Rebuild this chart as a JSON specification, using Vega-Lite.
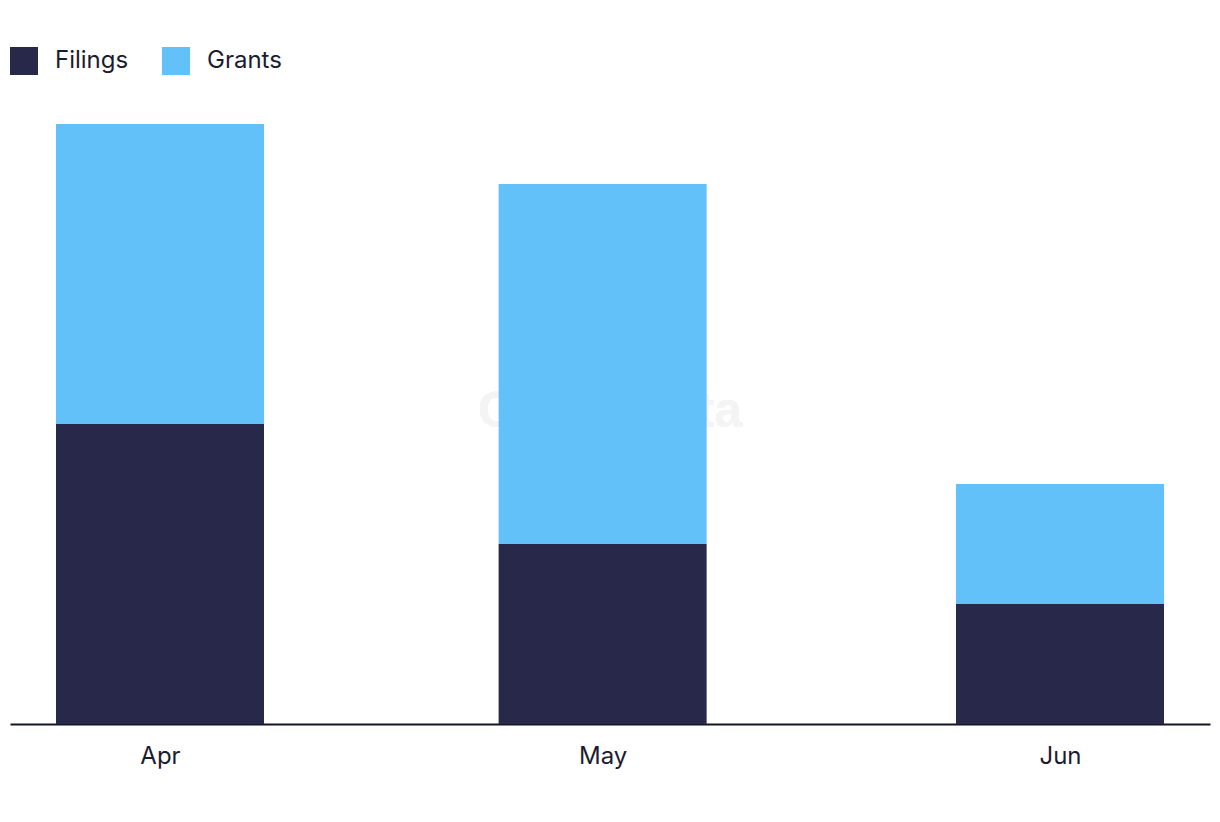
{
  "$schema": "https://vega.github.io/schema/vega-lite/v6.json",
  "width": 1200,
  "height": 600,
  "padding": {"left": 10, "top": 47, "right": 10, "bottom": 5},
  "background": "white",
  "config": {
    "view": {"stroke": null},
    "font": "Inter"
  },
  "data": {
    "values": [
      {"month": "2024-04-01", "type": "Filings", "count": 5},
      {"month": "2024-04-01", "type": "Grants", "count": 5},
      {"month": "2024-05-01", "type": "Filings", "count": 3},
      {"month": "2024-05-01", "type": "Grants", "count": 6},
      {"month": "2024-06-01", "type": "Filings", "count": 2},
      {"month": "2024-06-01", "type": "Grants", "count": 2}
    ]
  },
  "layer": [
    {
      "mark": {"type": "text", "text": "GlobalData", "font": "Liberation Sans", "fontWeight": "bold", "fontSize": 50, "align": "center", "baseline": "middle", "color": "#f4f4f4"},
      "encoding": {
        "x": {
          "datum": {"year": 2024, "month": 5, "date": 1, "hours": 12, "utc": true},
          "type": "temporal",
          "scale": {
            "type": "utc",
            "nice": false,
            "padding": 0,
            "domain": [
              {"year": 2024, "month": 3, "date": 21, "hours": 20, "utc": true},
              {"year": 2024, "month": 6, "date": 11, "hours": 4, "utc": true}
            ]
          },
          "axis": {
            "title": null,
            "values": [
              {"year": 2024, "month": 4, "date": 1, "utc": true},
              {"year": 2024, "month": 5, "date": 1, "utc": true},
              {"year": 2024, "month": 6, "date": 1, "utc": true}
            ],
            "labelExpr": "utcFormat(datum.value, '%b')",
            "ticks": false,
            "grid": false,
            "domainColor": "#15152a",
            "domainWidth": 2,
            "labelFontSize": 24,
            "labelColor": "#1c1c30",
            "labelPadding": 20,
            "labelFont": "Inter"
          }
        },
        "y": {"datum": 5.2, "type": "quantitative", "scale": {"domain": [0, 10], "nice": false}, "axis": null}
      }
    },
    {
      "mark": {"type": "bar", "width": 208},
      "encoding": {
        "x": {
          "field": "month",
          "type": "temporal",
          "scale": {
            "type": "utc",
            "nice": false,
            "padding": 0,
            "domain": [
              {"year": 2024, "month": 3, "date": 21, "hours": 20, "utc": true},
              {"year": 2024, "month": 6, "date": 11, "hours": 4, "utc": true}
            ]
          },
          "axis": {
            "title": null,
            "values": [
              {"year": 2024, "month": 4, "date": 1, "utc": true},
              {"year": 2024, "month": 5, "date": 1, "utc": true},
              {"year": 2024, "month": 6, "date": 1, "utc": true}
            ],
            "labelExpr": "utcFormat(datum.value, '%b')",
            "ticks": false,
            "grid": false,
            "domainColor": "#15152a",
            "domainWidth": 2,
            "labelFontSize": 24,
            "labelColor": "#1c1c30",
            "labelPadding": 20,
            "labelFont": "Inter"
          }
        },
        "y": {
          "field": "count",
          "type": "quantitative",
          "stack": "zero",
          "scale": {"domain": [0, 10], "nice": false},
          "axis": null
        },
        "order": {"field": "type", "sort": "ascending"},
        "color": {
          "field": "type",
          "type": "nominal",
          "scale": {"domain": ["Filings", "Grants"], "range": ["#27284a", "#62c1f9"]},
          "legend": {
            "title": null,
            "orient": "none",
            "legendX": 0,
            "legendY": -77,
            "direction": "horizontal",
            "symbolType": "square",
            "symbolSize": 784,
            "symbolStrokeWidth": 0,
            "symbolOpacity": 1,
            "labelFontSize": 24,
            "labelColor": "#1c1c30",
            "labelFont": "Inter",
            "labelOffset": 17,
            "columnPadding": 33
          }
        }
      }
    }
  ]
}
